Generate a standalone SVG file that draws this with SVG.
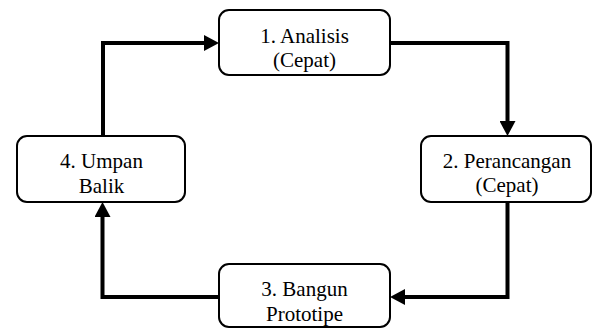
<svg xmlns="http://www.w3.org/2000/svg" width="594" height="329" viewBox="0 0 594 329">
<style>
.box{fill:#fff;stroke:#000;stroke-width:2}
.lbl{font-family:'Liberation Serif','Times New Roman',serif;font-size:21px;fill:#000;text-anchor:middle}
.conn{fill:none;stroke:#000;stroke-width:4;stroke-linejoin:miter}
</style>
<defs>
<marker id="ah" markerUnits="userSpaceOnUse" markerWidth="16" markerHeight="16" refX="0" refY="8" orient="auto" viewBox="0 0 16 16">
<path d="M0,0 L15,8 L0,16 z" fill="#000"/>
</marker>
</defs>
<rect width="594" height="329" fill="#fff"/>
<g id="connectors">
<path class="conn" d="M103,136 V43 H204" marker-end="url(#ah)"/>
<path class="conn" d="M390,43 H507.5 V121" marker-end="url(#ah)"/>
<path class="conn" d="M507.5,202 V297 H405" marker-end="url(#ah)"/>
<path class="conn" d="M219,297 H102.5 V217" marker-end="url(#ah)"/>
</g>
<g id="node1">
<rect class="box" x="219" y="10" width="171" height="65" rx="10"/>
<text class="lbl" x="304.5" y="43">1. Analisis</text>
<text class="lbl" x="304.5" y="67">(Cepat)</text>
</g>
<g id="node2">
<rect class="box" x="421" y="136" width="170" height="66" rx="10"/>
<text class="lbl" x="507" y="168">2. Perancangan</text>
<text class="lbl" x="507" y="192">(Cepat)</text>
</g>
<g id="node3">
<rect class="box" x="219" y="264" width="171" height="63" rx="10"/>
<text class="lbl" x="304.5" y="296">3. Bangun</text>
<text class="lbl" x="304.5" y="321">Prototipe</text>
</g>
<g id="node4">
<rect class="box" x="17" y="136" width="168" height="66" rx="10"/>
<text class="lbl" x="101.5" y="168">4. Umpan</text>
<text class="lbl" x="101.5" y="193">Balik</text>
</g>
</svg>
